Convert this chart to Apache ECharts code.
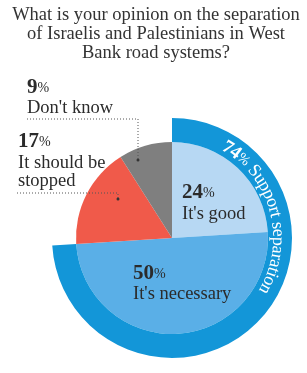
<!DOCTYPE html>
<html>
<head>
<meta charset="utf-8">
<script src="https://cdn.jsdelivr.net/npm/echarts@6/dist/echarts.min.js"></script>
<style>
  html, body { margin: 0; padding: 0; background: #fff; }
  #main { width: 307px; height: 373px; }
</style>
</head>
<body>
<div id="main"></div>
<script>
// data
const title = 'What is your opinion on the separation\nof Israelis and Palestinians in West\nBank road systems?'
const names = ["It's good", "It's necessary", 'It should be\nstopped', "Don't know"]
const values = [24, 50, 17, 9]
const ringValues = [74, 26]
const ringLabel = 'Support separation'

const colors = ['#b7d8f3', '#5aafe7', '#f05a4a', '#7f7f7f']
const ringColor = '#1396d8'
const serif = '"Liberation Serif", "DejaVu Serif", serif'
const center = [172, 238]
const rIn = 96
const rOut = 120

// where each label block sits (left x, number line y, name line y)
const labelPos = [
  [182, 193, 214],
  [133, 274, 294],
  [18, 142, 163],
  [27, 88, 108]
]

const chart = echarts.init(document.getElementById('main'))

const graphics = []
graphics.push({
  type: 'text',
  x: 156,
  y: 6,
  style: {
    text: title,
    fill: '#333',
    font: '18.5px ' + serif,
    lineHeight: 19,
    align: 'center',
    textAlign: 'center',
    verticalAlign: 'top'
  }
})

values.forEach((v, i) => {
  const p = labelPos[i]
  graphics.push({
    type: 'text',
    x: p[0],
    y: p[1],
    z: 10,
    style: {
      text: '{n|' + v + '}{p|%}',
      verticalAlign: 'middle',
      textVerticalAlign: 'middle',
      rich: {
        n: { fontFamily: serif, fontSize: 21, fontWeight: 'bold', fill: '#2b2b2b', color: '#2b2b2b' },
        p: { fontFamily: serif, fontSize: 14, fill: '#2b2b2b', color: '#2b2b2b' }
      }
    }
  })
  graphics.push({
    type: 'text',
    x: p[0],
    y: p[2] - 9,
    z: 10,
    style: {
      text: names[i],
      fill: '#2b2b2b',
      font: '18.5px ' + serif,
      lineHeight: 18,
      verticalAlign: 'top',
      textVerticalAlign: 'top'
    }
  })
})

// dotted leader lines for the two small slices
const leaders = [
  [[27, 119], [138, 119], [138, 160]],
  [[17, 193], [118, 193], [118, 199]]
]
leaders.forEach(pts => {
  graphics.push({
    type: 'polyline',
    z: 10,
    shape: { points: pts },
    style: { stroke: '#555', lineWidth: 1, lineDash: [1, 2], fill: null }
  })
  const end = pts[pts.length - 1]
  graphics.push({
    type: 'circle',
    z: 10,
    shape: { cx: end[0], cy: end[1], r: 1.5 },
    style: { fill: '#333' }
  })
})

// text bent along the outer ring
const ctx = document.createElement('canvas').getContext('2d')
const pieces = []
String(ringValues[0]).split('').forEach(c => pieces.push([c, 'bold 19px ' + serif]))
pieces.push(['%', '14px ' + serif])
;(' ' + ringLabel).split('').forEach(c => pieces.push([c, '18px ' + serif]))
const rText = 106
let ang = 29 * Math.PI / 180
pieces.forEach(([c, font]) => {
  ctx.font = font
  const w = ctx.measureText(c).width
  const a = ang + (w / 2) / rText
  ang += w / rText
  if (c === ' ') return
  graphics.push({
    type: 'text',
    x: center[0] + rText * Math.sin(a),
    y: center[1] - rText * Math.cos(a),
    rotation: -a,
    z: 10,
    style: {
      text: c,
      font: font,
      fill: '#fff',
      align: 'center',
      textAlign: 'center',
      verticalAlign: 'middle',
      textVerticalAlign: 'middle'
    }
  })
})

const option = {
  animation: false,
  graphic: graphics,
  series: [
    {
      type: 'pie',
      center: center,
      radius: [0, rIn],
      startAngle: 90,
      clockwise: true,
      silent: true,
      label: { show: false },
      labelLine: { show: false },
      data: values.map((v, i) => ({ value: v, name: names[i], itemStyle: { color: colors[i] } }))
    },
    {
      type: 'pie',
      center: center,
      radius: [rIn, rOut],
      startAngle: 90,
      clockwise: true,
      silent: true,
      label: { show: false },
      labelLine: { show: false },
      data: [
        { value: ringValues[0], name: 'support', itemStyle: { color: ringColor } },
        { value: ringValues[1], name: 'rest', itemStyle: { color: 'rgba(0,0,0,0)' } }
      ]
    }
  ]
}
chart.setOption(option)
</script>
</body>
</html>
